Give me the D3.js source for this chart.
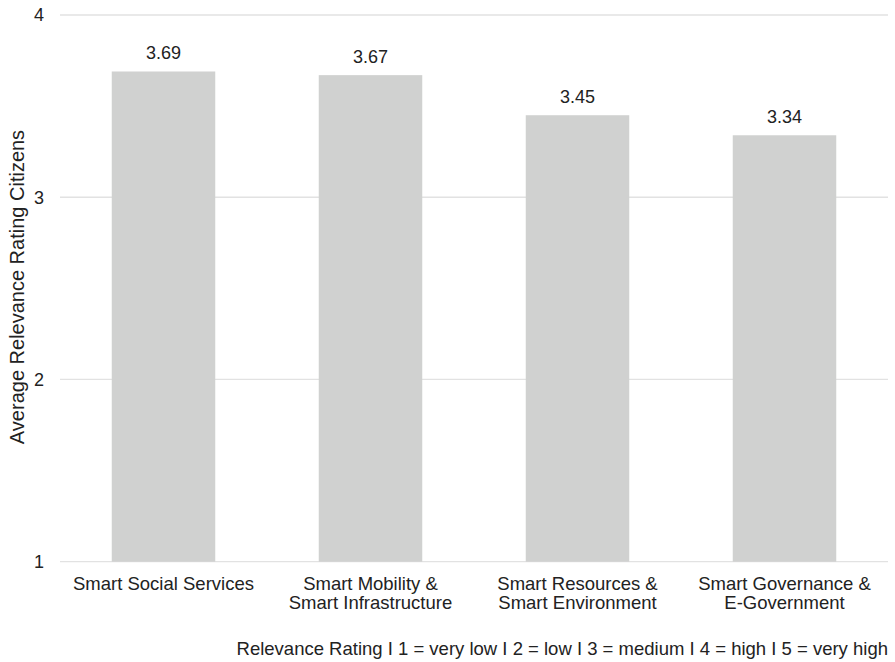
<!DOCTYPE html>
<html>
<head>
<meta charset="utf-8">
<script src="https://cdn.jsdelivr.net/npm/d3@7"></script>
<style>
  body { margin: 0; background: #fff; }
  text { font-family: "Liberation Sans", Arial, sans-serif; fill: #222; }
</style>
</head>
<body>
<script>
// data
let categories = [
  ["Smart Social Services"],
  ["Smart Mobility &", "Smart Infrastructure"],
  ["Smart Resources &", "Smart Environment"],
  ["Smart Governance &", "E-Government"]
];
let values = [3.69, 3.67, 3.45, 3.34];
let yTicks = [1, 2, 3, 4];
let yTitle = "Average Relevance Rating Citizens";
let footnote = "Relevance Rating I 1 = very low I 2 = low I 3 = medium I 4 = high I 5 = very high";

let width = 895;
let height = 662;
let margin = {top: 15, right: 7, bottom: 100, left: 60};

let svg = d3.select("body")
            .append("svg")
            .attr("width", width)
            .attr("height", height);

let x = d3.scaleBand()
          .domain(d3.range(categories.length))
          .range([margin.left, width - margin.right])
          .paddingInner(0.5)
          .paddingOuter(0.25);

let y = d3.scaleLinear()
          .domain([1, 4])
          .range([height - margin.bottom - 0.3, margin.top]);

// gridlines
svg.selectAll(".grid")
   .data(yTicks)
   .enter().append("line")
   .attr("x1", margin.left)
   .attr("x2", width - margin.right)
   .attr("y1", d => y(d))
   .attr("y2", d => y(d))
   .attr("stroke", "#e2e2e2")
   .attr("stroke-width", 1.3);

// y tick labels
svg.selectAll(".ytick")
   .data(yTicks)
   .enter().append("text")
   .attr("x", 44)
   .attr("y", d => y(d))
   .attr("dy", "0.35em")
   .attr("text-anchor", "end")
   .style("font-size", "18px")
   .text(d => d);

// bars
svg.selectAll(".bar")
   .data(values)
   .enter().append("rect")
   .attr("x", (d, i) => x(i))
   .attr("y", d => y(d))
   .attr("width", x.bandwidth())
   .attr("height", d => y(1) - y(d))
   .attr("fill", "#d0d1d0");

// value labels
svg.selectAll(".val")
   .data(values)
   .enter().append("text")
   .attr("x", (d, i) => x(i) + x.bandwidth() / 2)
   .attr("y", d => y(d) - 12)
   .attr("text-anchor", "middle")
   .style("font-size", "18px")
   .text(d => d.toFixed(2));

// category labels
categories.forEach(function(lines, i) {
  let t = svg.append("text")
             .attr("x", x(i) + x.bandwidth() / 2)
             .attr("y", y(1) + 28)
             .attr("text-anchor", "middle")
             .style("font-size", "18.5px");
  lines.forEach(function(l, j) {
    t.append("tspan")
     .attr("x", x(i) + x.bandwidth() / 2)
     .attr("dy", j === 0 ? 0 : 19)
     .text(l);
  });
});

// y axis title
svg.append("text")
   .attr("transform", "translate(17," + 287 + ") rotate(-90)")
   .attr("dy", "0.35em")
   .attr("text-anchor", "middle")
   .style("font-size", "20px")
   .text(yTitle);

// footnote
svg.append("text")
   .attr("x", width - margin.right)
   .attr("y", 655)
   .attr("text-anchor", "end")
   .style("font-size", "18.5px")
   .text(footnote);
</script>
</body>
</html>
